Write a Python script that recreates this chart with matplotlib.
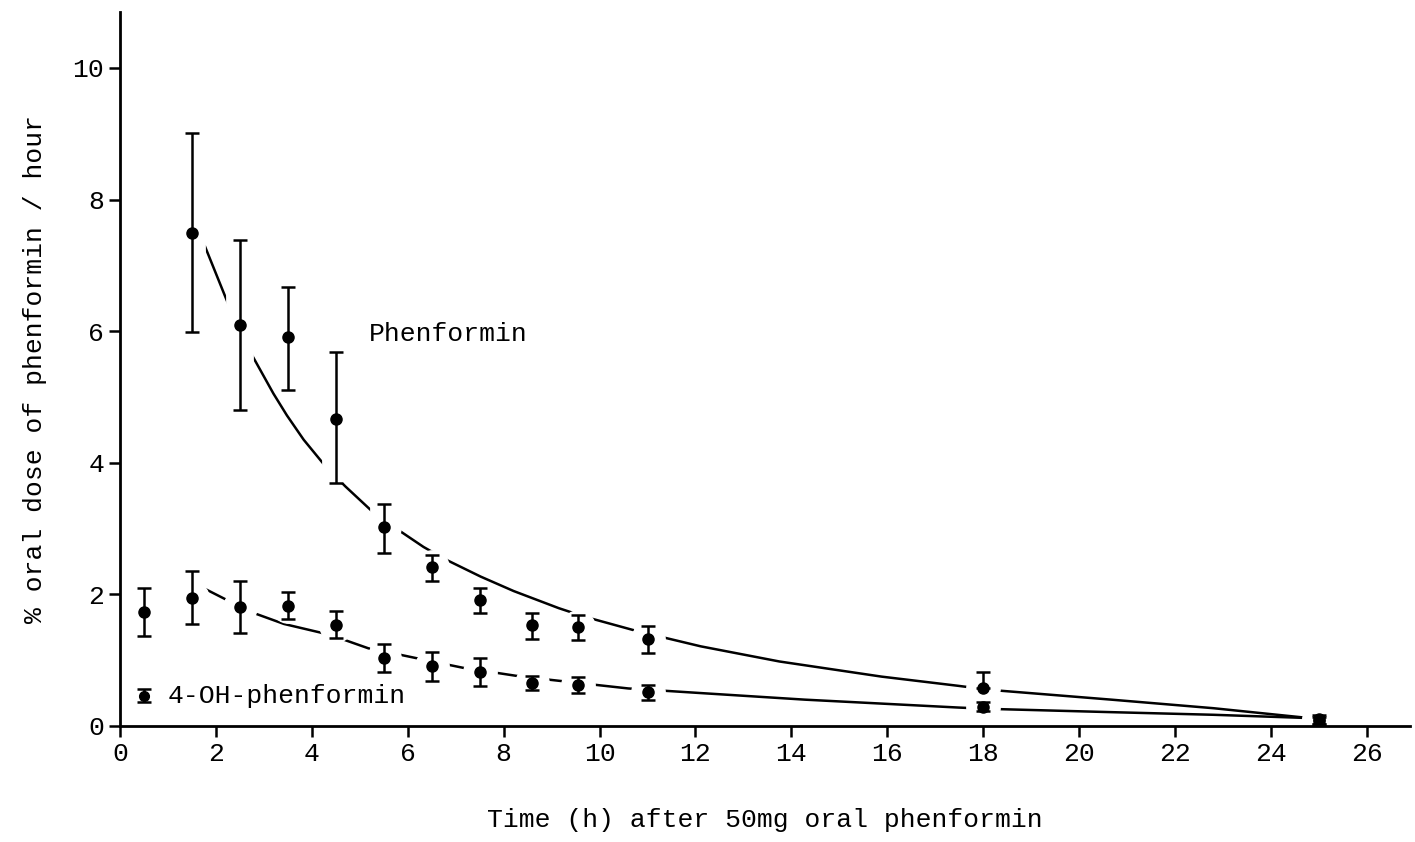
import matplotlib.pyplot as plt

plt.rcParams['font.family'] = ['Liberation Mono', 'DejaVu Sans Mono']

# measured points, mean +/- error
time_h = [0.5, 1.5, 2.5, 3.5, 4.5, 5.5, 6.5, 7.5, 8.6, 9.55, 11.0, 18.0, 25.0]
phen = [None, 7.49, 6.09, 5.91, 4.67, 3.03, 2.41, 1.92, 1.53, 1.51, 1.32, 0.58, 0.10]
phen_err_lo = [None, 1.51, 1.29, 0.80, 0.98, 0.40, 0.20, 0.20, 0.21, 0.20, 0.21, 0.0, 0.07]
phen_err_hi = [None, 1.52, 1.29, 0.76, 1.02, 0.35, 0.19, 0.18, 0.19, 0.18, 0.20, 0.24, 0.07]

oh = [1.73, 1.95, 1.81, 1.83, 1.54, 1.03, 0.91, 0.82, 0.65, 0.62, 0.51, 0.29, 0.08]
oh_err = [0.37, 0.40, 0.40, 0.21, 0.20, 0.21, 0.22, 0.21, 0.11, 0.12, 0.11, 0.07, 0.05]

# fitted curves
phen_curve_t = [1.71, 2.33, 2.65, 3.20, 3.48, 3.83, 4.28, 4.70, 5.26, 5.74, 6.33, 6.79,
                7.52, 8.21, 9.15, 9.69, 10.69, 11.25, 12.11, 13.75, 15.88, 17.48,
                18.12, 20.67, 22.8, 24.8]
phen_curve_y = [7.40, 6.28, 5.77, 5.05, 4.72, 4.35, 3.95, 3.64, 3.26, 3.01, 2.72, 2.53,
                2.27, 2.05, 1.79, 1.66, 1.46, 1.36, 1.21, 0.98, 0.75, 0.61,
                0.55, 0.40, 0.27, 0.12]
oh_curve_t = [1.70, 2.70, 3.42, 4.38, 5.18, 5.66, 6.38, 7.18, 7.65, 8.37, 9.73, 10.6,
              11.25, 12.11, 14.28, 17.48, 18.12, 20.67, 22.8, 24.8]
oh_curve_y = [2.11, 1.74, 1.55, 1.385, 1.18, 1.11, 1.00, 0.88, 0.83, 0.75, 0.64, 0.57,
              0.54, 0.50, 0.40, 0.28, 0.26, 0.21, 0.17, 0.12]

fig = plt.figure(figsize=(14.15, 8.42), dpi=100)
ax = fig.add_axes([0.0848, 0.1378, 0.9117, 0.848])

ax.plot(phen_curve_t, phen_curve_y, color='black', lw=1.8, zorder=1)
ax.plot(oh_curve_t, oh_curve_y, color='black', lw=1.8, zorder=1)

pt = [t for t, v in zip(time_h, phen) if v is not None]
pv = [v for v in phen if v is not None]
plo = [v for v in phen_err_lo if v is not None]
phi = [v for v in phen_err_hi if v is not None]

# white halo round points and bars, so the curves break there like the original
for xs, ys, err in [(pt, pv, [plo, phi]), (time_h, oh, oh_err)]:
    ax.errorbar(xs, ys, yerr=err, fmt='o', ms=24, color='white', mec='white',
                elinewidth=20, capsize=0, zorder=2)

ax.errorbar(pt, pv, yerr=[plo, phi], fmt='o', color='black', ms=8,
            capsize=5, elinewidth=1.8, capthick=1.8, zorder=3)
ax.errorbar(time_h, oh, yerr=oh_err, fmt='o', color='black', ms=8,
            capsize=5, elinewidth=1.8, capthick=1.8, zorder=3)

# key symbol
ax.errorbar([0.5], [0.46], yerr=[0.1], fmt='o', color='black', ms=7,
            capsize=5, elinewidth=1.8, capthick=1.8, zorder=3)
ax.text(1.0, 0.46, '4-OH-phenformin', fontsize=19, va='center', ha='left')
ax.text(5.2, 5.95, 'Phenformin', fontsize=19, va='center', ha='left')

ax.set_xlim(0, 26.9)
ax.set_ylim(0, 10.85)
ax.set_xticks(range(0, 27, 2))
ax.set_yticks(range(0, 11, 2))
ax.tick_params(labelsize=19, width=1.8, length=8, direction='out')
for s in ['top', 'right']:
    ax.spines[s].set_visible(False)
for s in ['left', 'bottom']:
    ax.spines[s].set_linewidth(2)

ax.set_xlabel('Time (h) after 50mg oral phenformin', fontsize=19, labelpad=30)
ax.set_ylabel('% oral dose of phenformin / hour', fontsize=19, labelpad=18)

plt.savefig('out.png', dpi=100)
plt.close()
